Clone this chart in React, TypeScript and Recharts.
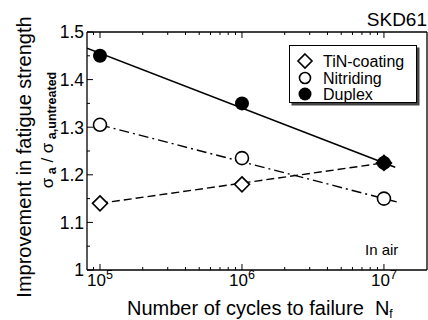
import React from "react";
import {
  ComposedChart,
  Line,
  Scatter,
  XAxis,
  YAxis,
} from "recharts";

// cycles to failure at which each treatment was tested
const cyclesTested = [1e5, 1e6, 1e7];
const tinCoating = [1.14, 1.18, 1.225];
const nitriding = [1.305, 1.235, 1.15];
const duplex = [1.45, 1.35, 1.225];

// trend lines (end points in log N)
const tinFitN = [1e5, 1e7];
const tinFitV = [1.14, 1.225];
const nitFitN = [1e5, 1.23e7];
const nitFitV = [1.305, 1.143];
const dupFitN = [81000, 1.2e7];
const dupFitV = [1.466, 1.216];

const decades = [1e5, 1e6, 1e7];
const xTicks = [
  9e4, 1e5, 2e5, 3e5, 4e5, 5e5, 6e5, 7e5, 8e5, 9e5, 1e6, 2e6, 3e6, 4e6, 5e6,
  6e6, 7e6, 8e6, 9e6, 1e7,
];
const yTicks = [1, 1.05, 1.1, 1.15, 1.2, 1.25, 1.3, 1.35, 1.4, 1.45, 1.5];
const yLabels = ["1", "1.1", "1.2", "1.3", "1.4", "1.5"];
const seriesNames = ["TiN-coating", "Nitriding", "Duplex"];

const FONT = "'Liberation Sans', Arial, Helvetica, sans-serif";

const pts = (ns: number[], vs: number[]) => ns.map((n, i) => ({ n, v: vs[i] }));

const tinPts = pts(cyclesTested, tinCoating);
const nitPts = pts(cyclesTested, nitriding);
const dupPts = pts(cyclesTested, duplex);

const isMajorY = (v: number) => Math.abs(v * 10 - Math.round(v * 10)) < 1e-6;

function XTick(props: any) {
  const { x, y, payload, top } = props;
  const major = decades.includes(payload.value);
  const len = major ? 6 : 3;
  const exp = Math.round(Math.log10(payload.value));
  return (
    <g>
      <line
        x1={x}
        x2={x}
        y1={y}
        y2={top ? y + len : y - len}
        stroke="#000"
        strokeWidth={1}
      />
      {major && !top && (
        <text
          x={x}
          y={y + 16}
          textAnchor="middle"
          fontSize={17}
          fontFamily={FONT}
          fill="#000"
        >
          10
          <tspan dy={-7} fontSize={12.5}>
            {exp}
          </tspan>
        </text>
      )}
    </g>
  );
}

function YTick(props: any) {
  const { x, y, payload, right } = props;
  const major = isMajorY(payload.value);
  const len = major ? 6 : 3;
  const label = yLabels.find((l) => Math.abs(parseFloat(l) - payload.value) < 1e-6);
  return (
    <g>
      <line
        x1={x}
        x2={right ? x - len : x + len}
        y1={y}
        y2={y}
        stroke="#000"
        strokeWidth={1}
      />
      {!right && label && (
        <text
          x={x - 3}
          y={y}
          dy="0.36em"
          textAnchor="end"
          fontSize={17.5}
          fontFamily={FONT}
          fill="#000"
        >
          {label}
        </text>
      )}
    </g>
  );
}

function Diamond({ cx, cy, filled }: { cx: number; cy: number; filled?: boolean }) {
  const r = 7.5;
  return (
    <path
      d={`M${cx},${cy - r}L${cx + r},${cy}L${cx},${cy + r}L${cx - r},${cy}Z`}
      fill={filled ? "#000" : "#fff"}
      stroke="#000"
      strokeWidth={1.6}
    />
  );
}

function TinShape(props: any) {
  const { cx, cy, payload } = props;
  // where the TiN and duplex results coincide the marker is drawn solid
  const i = cyclesTested.indexOf(payload.n);
  const filled = i >= 0 && Math.abs(duplex[i] - payload.v) < 0.01;
  return <Diamond cx={cx} cy={cy} filled={filled} />;
}

function OpenCircle(props: any) {
  return <circle cx={props.cx} cy={props.cy} r={6.5} fill="#fff" stroke="#000" strokeWidth={1.6} />;
}

function SolidCircle(props: any) {
  return <circle cx={props.cx} cy={props.cy} r={7} fill="#000" />;
}

function LegendBox({ x, y }: { x: number; y: number }) {
  return (
    <g transform={`translate(${x},${y})`}>
      <rect x={2.5} y={2.5} width={128} height={58} fill="#444" />
      <rect x={0.5} y={0.5} width={127} height={57} fill="#fff" stroke="#000" />
      <path d="M16,9L23,16L16,23L9,16Z" fill="#fff" stroke="#000" strokeWidth={1.6} />
      <circle cx={16} cy={33} r={5.5} fill="#fff" stroke="#000" strokeWidth={1.6} />
      <circle cx={16} cy={49} r={6.5} fill="#000" />
      {seriesNames.map((name, i) => (
        <text
          key={name}
          x={34}
          y={22 + i * 16.5}
          fontSize={16}
          fontFamily={FONT}
          fill="#000"
        >
          {name}
        </text>
      ))}
    </g>
  );
}

export default function App() {
  return (
    <div
      style={{
        position: "absolute",
        left: 0,
        top: 0,
        width: 428,
        height: 320,
        background: "#fff",
        fontFamily: FONT,
      }}
    >
      <ComposedChart
        width={428}
        height={320}
        margin={{ top: 0, right: 0, bottom: 0, left: 0 }}
      >
        <XAxis
          xAxisId="b"
          dataKey="n"
          type="number"
          scale="log"
          domain={[81000, 2.01e7]}
          allowDataOverflow
          ticks={xTicks}
          interval={0}
          height={50}
          tickSize={0}
          tickMargin={0}
          tickLine={false}
          tick={<XTick />}
          axisLine={{ stroke: "#000", strokeWidth: 1.3 }}
        />
        <XAxis
          xAxisId="t"
          orientation="top"
          dataKey="n"
          type="number"
          scale="log"
          domain={[81000, 2.01e7]}
          allowDataOverflow
          ticks={xTicks}
          interval={0}
          height={32}
          tickSize={0}
          tickMargin={0}
          tickLine={false}
          tick={<XTick top />}
          axisLine={{ stroke: "#000", strokeWidth: 1.3 }}
        />
        <YAxis
          yAxisId="l"
          type="number"
          domain={[1, 1.5]}
          ticks={yTicks}
          interval={0}
          width={87}
          tickSize={0}
          tickMargin={0}
          tickLine={false}
          tick={<YTick />}
          axisLine={{ stroke: "#000", strokeWidth: 1.3 }}
        />
        <YAxis
          yAxisId="r"
          orientation="right"
          type="number"
          domain={[1, 1.5]}
          ticks={yTicks}
          interval={0}
          width={1}
          tickSize={0}
          tickMargin={0}
          tickLine={false}
          tick={<YTick right />}
          axisLine={{ stroke: "#000", strokeWidth: 1.3 }}
        />

        <Line
          xAxisId="b"
          yAxisId="l"
          data={pts(dupFitN, dupFitV)}
          dataKey="v"
          stroke="#000"
          strokeWidth={1.6}
          dot={false}
          isAnimationActive={false}
        />
        <Line
          xAxisId="b"
          yAxisId="l"
          data={pts(tinFitN, tinFitV)}
          dataKey="v"
          stroke="#000"
          strokeWidth={1.4}
          strokeDasharray="8 4"
          dot={false}
          isAnimationActive={false}
        />
        <Line
          xAxisId="b"
          yAxisId="l"
          data={pts(nitFitN, nitFitV)}
          dataKey="v"
          stroke="#000"
          strokeWidth={1.4}
          strokeDasharray="10 4 2 4"
          dot={false}
          isAnimationActive={false}
        />

        <Scatter
          xAxisId="b"
          yAxisId="l"
          name="Duplex"
          data={dupPts}
          dataKey="v"
          shape={<SolidCircle />}
          isAnimationActive={false}
        />
        <Scatter
          xAxisId="b"
          yAxisId="l"
          name="Nitriding"
          data={nitPts}
          dataKey="v"
          shape={<OpenCircle />}
          isAnimationActive={false}
        />
        <Scatter
          xAxisId="b"
          yAxisId="l"
          name="TiN-coating"
          data={tinPts}
          dataKey="v"
          shape={<TinShape />}
          isAnimationActive={false}
        />
      </ComposedChart>

      <svg
        width={428}
        height={320}
        style={{ position: "absolute", left: 0, top: 0, pointerEvents: "none" }}
        fontFamily={FONT}
      >
        <LegendBox x={289} y={45} />
        <text x={427} y={26} textAnchor="end" fontSize={19} fill="#000">
          SKD61
        </text>
        <text x={365} y={255} fontSize={15} fill="#000">
          In air
        </text>
        <text
          transform="translate(31,157) rotate(-90)"
          textAnchor="middle"
          fontSize={20}
          fill="#000"
        >
          Improvement in fatigue strength
        </text>
        <text
          transform="translate(53,130) rotate(-90)"
          textAnchor="middle"
          fontSize={17}
          fill="#000"
        >
          σ
          <tspan fontSize={12.5} fontWeight="bold" dy={3}>
            {"\u00a0a"}
          </tspan>
          <tspan dy={-3}>{"\u00a0/\u00a0σ"}</tspan>
          <tspan fontSize={12.5} fontWeight="bold" dy={3}>
            {"\u00a0a,untreated"}
          </tspan>
        </text>
        <text x={127} y={315} fontSize={20} fill="#000">
          Number of cycles to failure{"\u00a0\u00a0"}N
          <tspan fontSize={12} dy={3}>
            f
          </tspan>
        </text>
      </svg>
    </div>
  );
}
